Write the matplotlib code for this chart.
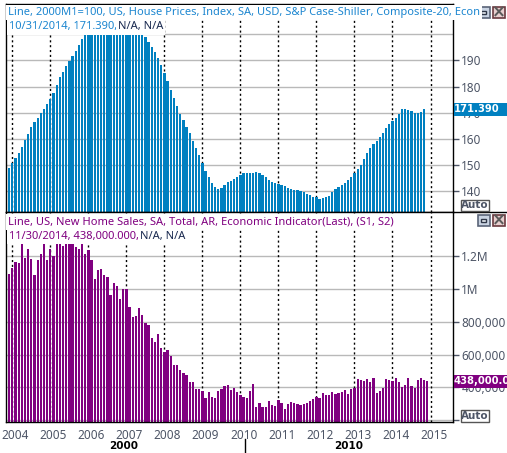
"""Two stacked bar panels: US house prices and new home sales, 2003-2014."""
import numpy as np
import matplotlib
matplotlib.use('Agg')
import matplotlib.pyplot as plt
from matplotlib.patches import Rectangle

plt.rcParams['font.family'] = ['Noto Sans', 'DejaVu Sans']
plt.rcParams['font.size'] = 8

# Monthly values from Oct 2003 on; the tallest bars run off the panel
house_prices = [
    147.1, 148.8, 150.7, 152.8, 154.6, 157.0, 159.7, 161.9, 164.7, 166.5, 168.1, 169.9,
    171.4, 173.3, 175.4, 177.5, 180.6, 183.6, 185.7, 187.8, 189.7, 191.7, 193.7, 195.9,
    198.1, 200.5, 201.5, 202.5, 203.5, 204.5, 205.5, 206.0, 206.5, 206.3, 206.0, 205.5,
    205.0, 204.5, 204.0, 203.5, 203.0, 202.5, 201.5, 200.5, 198.8, 197.0, 195.1, 193.3,
    190.8, 188.2, 185.3, 182.1, 178.7, 175.8, 172.6, 169.5, 167.2, 164.7, 162.1, 159.3,
    156.4, 153.9, 150.8, 147.8, 145.5, 143.3, 141.7, 140.9, 141.3, 142.4, 143.6, 143.8,
    144.7, 145.5, 146.4, 147.0, 147.0, 147.0, 147.0,
    147.4, 147.0, 146.4, 145.5, 144.3, 143.6, 143.2, 142.7, 142.4, 142.0, 141.3, 140.9,
    140.5, 140.5, 140.0, 139.7, 139.1, 138.6, 137.8, 137.7, 137.1, 137.5, 137.8, 138.2,
    139.9, 140.9, 141.7, 142.4, 143.2, 144.3, 145.5, 147.0, 148.5, 150.1, 152.3, 154.6,
    156.5, 158.1, 159.2, 160.7, 162.3, 164.2, 165.7, 167.0, 168.0, 169.5, 171.4, 171.4,
    171.0, 170.7, 170.0, 170.0, 170.3, 171.39,
]
home_sales = [
    1147, 1092, 1129, 1165, 1159, 1275, 1190, 1245, 1184, 1086, 1178, 1214,
    1300, 1178, 1245, 1202, 1300, 1300, 1263, 1300, 1275, 1300, 1257, 1245,
    1300, 1214, 1239, 1178, 1062, 1117, 1123, 1086, 1074, 965, 1038, 1019,
    940, 1001, 1001, 891, 831, 837, 885, 843, 794, 782, 703, 678,
    727, 642, 617, 630, 593, 538, 538, 508, 490, 477, 435, 435,
    392, 392, 380, 337, 374, 343, 337, 380, 392, 410, 416, 386,
    398, 374, 356, 343, 337, 380, 422,
    282, 307, 282, 282, 319, 295, 288, 325, 307, 270, 301, 313,
    307, 301, 295, 301, 307, 319, 331, 343, 337, 368, 356, 356,
    374, 362, 368, 374, 386, 362, 392, 398, 453, 447, 441, 453,
    435, 459, 368, 380, 398, 453, 447, 441, 459, 435, 404, 416,
    459, 410, 398, 447, 459, 447, 438,
]
years = [2004, 2005, 2006, 2007, 2008, 2009, 2010, 2011, 2012, 2013, 2014, 2015]
price_ticks = [140, 150, 160, 170, 180, 190]
sales_ticks = [200, 400, 600, 800, 1000, 1200]
sales_labels = ['', '400,000', '600,000', '800,000', '1M', '1.2M']

W, H = 507, 453
BLUE = '#0080c0'
PURPLE = '#800080'
AXIS_TEXT = '#4d5566'
NAVY = '#1a2a50'
BOLD = 'DejaVu Sans'


def panel(top, bottom):
    """Axes placed by pixel rows, counted from the top of the figure."""
    return fig.add_axes([5.5 / W, 1 - bottom / H, (453 - 5.5) / W, (bottom - top) / H])


def fig_text(x, y, s, **kw):
    kw.setdefault('va', 'center')
    return fig.text(x / W, 1 - y / H, s, **kw)


def fig_rect(x0, y0, x1, y1, **kw):
    fig.add_artist(Rectangle((x0 / W, 1 - y1 / H), (x1 - x0) / W, (y1 - y0) / H,
                             transform=fig.transFigure, **kw))


def draw_panel(ax, values, color, clip, ticks, labels, ylim):
    x = np.arange(len(values))
    ax.set_axisbelow(True)
    ax.grid(axis='y', color='#b9b9b9', linewidth=1)
    # December separators sit behind the bars
    for year in years:
        ax.axvline((year - 2004) * 12 + 2, color='black', linestyle=(0, (1.5, 2)),
                   linewidth=1, zorder=1)
    ax.bar(x, np.minimum(values, clip), width=0.72, color=color, linewidth=0, zorder=2)
    ax.set_xlim(-0.16, 141.1)
    ax.set_ylim(*ylim)
    ax.yaxis.tick_right()
    ax.set_yticks(ticks)
    ax.set_yticklabels(labels)
    ax.tick_params(axis='y', length=4, width=1, color=AXIS_TEXT, labelcolor=AXIS_TEXT,
                   labelsize=8.5, pad=2)
    ax.set_xticks([(year - 2004) * 12 + 3 for year in years])
    for side in ax.spines.values():
        side.set_linewidth(1)


def header_text(x, y, s, color):
    fig_text(x, y, s, color=color, fontsize=8, zorder=5,
             bbox=dict(facecolor='white', edgecolor='none', pad=1.5))


def window_buttons(y):
    # Restore and close boxes at the right end of each panel header
    fig_rect(477.5, y, 489.5, y + 11, facecolor='#c9d3e2', edgecolor='#5a6478', linewidth=1.2)
    fig_rect(481, y + 4, 486, y + 7, facecolor='#eef2f7', edgecolor='#2f3748', linewidth=1)
    fig_rect(492.5, y, 504.5, y + 11, facecolor='#e8cfcf', edgecolor='#6a3a40', linewidth=1.2)
    fig_text(498.5, y + 5, '×', color='#5a5a5a', fontsize=12, fontweight='bold',
             ha='center', family=BOLD)


def auto_button(y0, y1):
    fig_rect(460.5, y0, 488.5, y1, facecolor='white', edgecolor='#555555', linewidth=1, zorder=6)
    fig_text(474.5, (y0 + y1) / 2, 'Auto', color='#4d5566', fontsize=7.5, fontweight='bold',
             ha='center', family=BOLD, zorder=7)


def value_tag(y0, y1, s, color):
    fig_rect(453.5, y0, 507, y1, facecolor=color, edgecolor='none', zorder=6)
    fig_text(454, (y0 + y1) / 2, s, color='white', fontsize=7.2, fontweight='bold',
             family=BOLD, zorder=7)


fig = plt.figure(figsize=(W / 100, H / 100), dpi=100)

ax1 = panel(4.3, 212)
draw_panel(ax1, house_prices, BLUE, 200, price_ticks, [str(t) for t in price_ticks], (132.1, 211.4))
ax1.axhline(200, color='#b9b9b9', linewidth=1, zorder=0.5)
ax1.tick_params(axis='x', length=2, width=1, labelbottom=False)

ax2 = panel(212, 422)
draw_panel(ax2, home_sales, PURPLE, 1281, sales_ticks, sales_labels, (189.6, 1470))
ax2.tick_params(axis='x', length=0, colors=AXIS_TEXT, labelsize=8.5, pad=5)
ax2.set_xticklabels([str(year) for year in years])

# Rule between the panels runs on to the figure edge
fig.add_artist(plt.Line2D([453 / W, 1], [1 - 212 / H] * 2, color='black', linewidth=1))
fig.add_artist(plt.Line2D([244.5 / W] * 2, [1 - 439 / H, 0], color='black', linewidth=1))

header_text(8, 12.5, 'Line, 2000M1=100, US, House Prices, Index, SA, USD, S&P Case-Shiller, '
            'Composite-20, Econ', '#1c86d0')
header_text(9, 27, '10/31/2014, 171.390,', '#1c86d0')
header_text(118, 27, 'N/A, N/A', NAVY)
header_text(8, 222, 'Line, US, New Home Sales, SA, Total, AR, Economic Indicator(Last), (S1, S2)', PURPLE)
header_text(9, 236, '11/30/2014, 438,000.000,', PURPLE)
header_text(140, 236, 'N/A, N/A', NAVY)

window_buttons(7)
window_buttons(215)
auto_button(200, 211)
auto_button(410, 421.5)
value_tag(103, 116, '171.390', BLUE)
value_tag(375, 388, '438,000.0', PURPLE)

fig_text(124, 446, '2000', color='black', fontsize=7.5, fontweight='bold', ha='center', family=BOLD)
fig_text(349, 446, '2010', color='black', fontsize=7.5, fontweight='bold', ha='center', family=BOLD)

fig.savefig('out.png', dpi=100)
